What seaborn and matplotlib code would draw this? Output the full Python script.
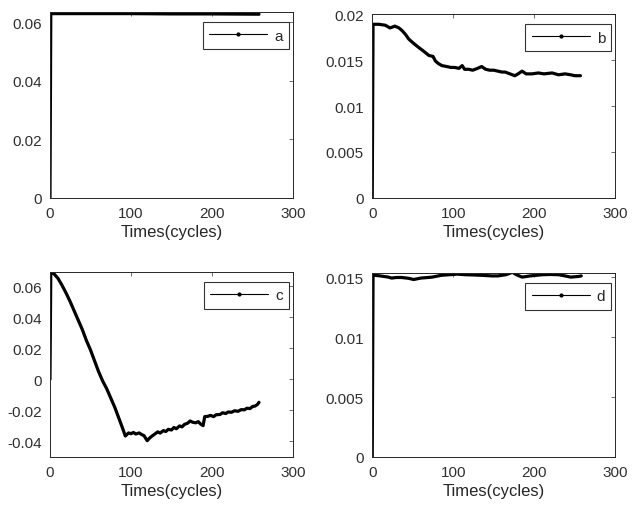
import matplotlib

matplotlib.use("Agg")
import matplotlib.pyplot as plt
import matplotlib.ticker as mticker
from matplotlib.lines import Line2D
import seaborn as sns

# panel a
a_t = [0, 1, 50, 100, 150, 200, 258]
a_v = [0, 0.0630, 0.0630, 0.0630, 0.0629, 0.0629, 0.0628]

# panel b
b_t = [0, 1, 8, 16, 22, 28, 33, 37, 41, 45,
       50, 57, 63, 70, 75, 78, 82, 86, 92, 97,
       102, 107, 111, 114, 119, 124, 130, 135, 140, 145,
       150, 155, 160, 164, 170, 176, 180, 185, 190, 197,
       205, 212, 222, 230, 238, 245, 250, 257]
b_v = [0, 0.0189, 0.0189, 0.0188, 0.0185, 0.0187, 0.0185, 0.0182, 0.0178, 0.0173,
       0.0169, 0.0164, 0.0160, 0.0155, 0.0154, 0.0149, 0.0146, 0.0144, 0.0143, 0.0142,
       0.0142, 0.0141, 0.0144, 0.0140, 0.0140, 0.0139, 0.0141, 0.0143, 0.0140, 0.0139,
       0.0139, 0.0138, 0.0137, 0.0137, 0.0135, 0.0133, 0.0135, 0.0138, 0.0135, 0.0135,
       0.0136, 0.0135, 0.0136, 0.0134, 0.0135, 0.0134, 0.0133, 0.0133]

# panel c
c_t = [0, 1, 5, 10, 15, 20, 25, 30, 35, 40, 45, 50, 55, 60, 65, 70, 75, 80, 85, 90,
       93, 95, 97, 100, 103, 106, 110, 113, 116, 120, 123, 126, 130, 133, 136, 140,
       143, 146, 150, 153, 156, 160, 163, 166, 170, 173, 176, 180, 183, 186, 189,
       191, 195, 198, 202, 205, 210, 213, 217, 220, 224, 228, 232, 236, 240, 243,
       247, 250, 253, 256, 258]
c_v = [0, 0.069, 0.068, 0.065, 0.0605, 0.0555, 0.050, 0.044, 0.038, 0.032, 0.025,
       0.019, 0.012, 0.005, -0.001, -0.006, -0.012, -0.018, -0.025, -0.032,
       -0.0365, -0.0355, -0.0345, -0.035, -0.0342, -0.0352, -0.0345, -0.0355,
       -0.0362, -0.0395, -0.0378, -0.0365, -0.0350, -0.0338, -0.0346, -0.0330,
       -0.0336, -0.0322, -0.0326, -0.0310, -0.0318, -0.0300, -0.0306, -0.0290,
       -0.0282, -0.0268, -0.0276, -0.0280, -0.0272, -0.0288, -0.0298, -0.0240,
       -0.0238, -0.0232, -0.0240, -0.0228, -0.0226, -0.0215, -0.0220, -0.0210,
       -0.0212, -0.0202, -0.0206, -0.0195, -0.0196, -0.0186, -0.0188, -0.0175,
       -0.0172, -0.0162, -0.0148]

# panel d
d_t = [0, 1, 10, 20, 24, 30, 36, 45, 51, 60, 74, 85, 95, 105, 115, 125, 135, 148,
       155, 165, 173, 178, 185, 195, 210, 220, 230, 238, 245, 255, 258]
d_v = [0, 0.01517, 0.0151, 0.0150, 0.01492, 0.01497, 0.01497, 0.0149, 0.0148,
       0.01492, 0.0150, 0.01515, 0.0152, 0.01525, 0.0152, 0.01518, 0.01515, 0.0151,
       0.0151, 0.0152, 0.0154, 0.0152, 0.0150, 0.0151, 0.0152, 0.01522, 0.0152,
       0.0151, 0.0150, 0.01506, 0.0151]

labels = ["a", "b", "c", "d"]
yticks = [
    [0, 0.02, 0.04, 0.06],
    [0, 0.005, 0.01, 0.015, 0.02],
    [-0.04, -0.02, 0, 0.02, 0.04, 0.06],
    [0, 0.005, 0.01, 0.015],
]
ylims = [(0, 0.0635), (0, 0.02), (-0.05, 0.0692), (0, 0.01536)]

sns.set_style("white")
plt.rcParams["font.family"] = ["Liberation Sans", "DejaVu Sans"]

fig = plt.figure(figsize=(6.44, 5.06), dpi=100)
positions = [
    [0.0776, 0.607, 0.3774, 0.367],
    [0.578, 0.607, 0.3774, 0.363],
    [0.0776, 0.0949, 0.3774, 0.3656],
    [0.578, 0.0949, 0.3774, 0.364],
]
series = [(a_t, a_v), (b_t, b_v), (c_t, c_v), (d_t, d_v)]

for pos, (t, v), lab, yt, yl in zip(positions, series, labels, yticks, ylims):
    ax = fig.add_axes(pos)
    sns.lineplot(x=t, y=v, ax=ax, color="black", linewidth=2.3, estimator=None)
    ax.set_xlim(0, 300)
    ax.set_ylim(*yl)
    ax.set_xticks([0, 100, 200, 300])
    ax.set_yticks(yt)
    ax.yaxis.set_major_formatter(mticker.FuncFormatter(lambda x, p: "%g" % round(x, 6)))
    ax.tick_params(direction="in", length=3, width=0.6, colors="#555555",
                   labelcolor="#303030", labelsize=11, top=True, right=True,
                   pad=6)
    for s in ax.spines.values():
        s.set_color("#262626")
        s.set_linewidth(0.7)
    ax.set_xlabel("Times(cycles)", fontsize=12, color="#262626", labelpad=3)
    ax.set_ylabel("")
    handle = Line2D([], [], color="black", linewidth=0.8, marker=".", markersize=4)
    leg = ax.legend([handle], [lab], loc="upper right", fontsize=11,
                    bbox_to_anchor=(0.984, 0.946), borderaxespad=0,
                    frameon=True, fancybox=False, handlelength=3.8,
                    borderpad=0.42, handletextpad=0.45)
    leg.get_frame().set_edgecolor("black")
    leg.get_frame().set_linewidth(0.8)

fig.savefig("out.png", dpi=100)
plt.close(fig)
